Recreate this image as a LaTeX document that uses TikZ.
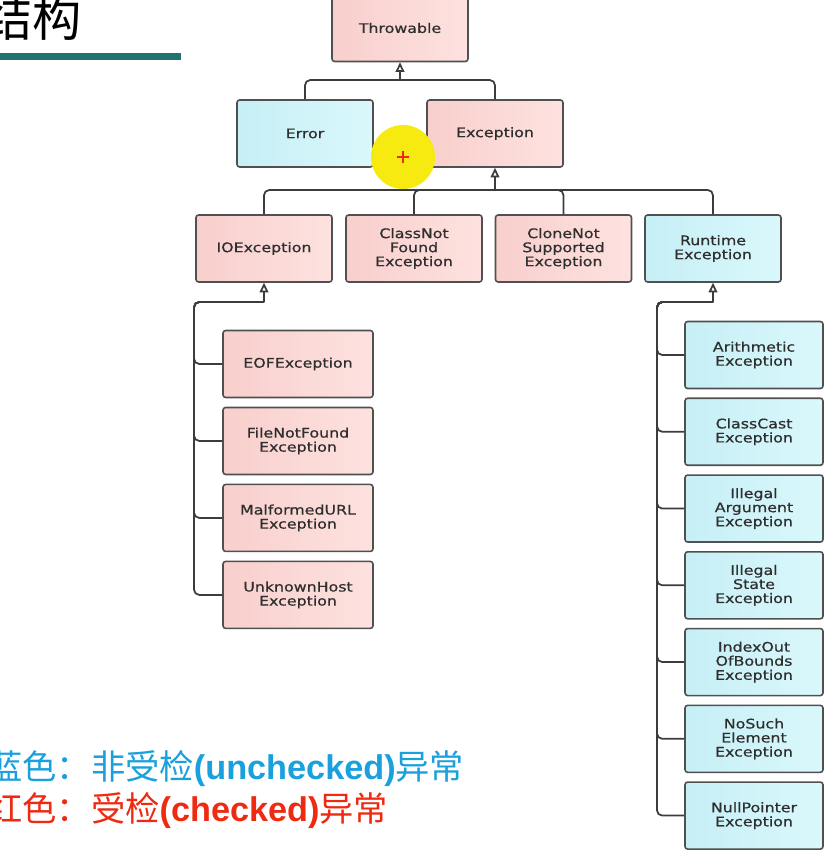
\documentclass[tikz,border=0pt]{standalone}
\usepackage{fontspec}
\setmainfont{DejaVu Sans}
\newfontfamily\boxfont[FakeStretch=1.2, FakeBold=0.6]{DejaVu Sans}
\newfontfamily\cjk{Noto Sans CJK SC}
\newfontfamily\latfont{Liberation Sans}
\usetikzlibrary{arrows.meta, positioning}
\definecolor{chkpink}{HTML}{F8CFCD}
\definecolor{chkpinklt}{HTML}{FDE2DF}
\definecolor{ucblue}{HTML}{C6EFF6}
\definecolor{ucbluelt}{HTML}{DAF8FB}
\definecolor{boxedge}{HTML}{505050}
\definecolor{lnkgray}{HTML}{3C3C3C}
\definecolor{txtgray}{HTML}{2E2E2E}
\definecolor{titleteal}{HTML}{1E7570}
\definecolor{legblue}{HTML}{1AA0DC}
\definecolor{legred}{HTML}{EE2A12}
\definecolor{hlyellow}{HTML}{F7EA10}

\begin{document}
\begin{tikzpicture}[x=0.02cm, y=-0.02cm,
  box/.style={rectangle, rounded corners=1.5pt, draw=boxedge, line width=0.9pt,
    minimum width=2.72cm, minimum height=1.34cm, align=center, text=txtgray,
    font=\boxfont\fontsize{7.5}{8}\selectfont, inner sep=1pt},
  chk/.style={box, left color=chkpink, right color=chkpinklt},
  unchk/.style={box, left color=ucblue, right color=ucbluelt},
  wide/.style={minimum width=3cm},
  narrow/.style={minimum width=2.76cm},
  conn/.style={draw=lnkgray, line width=1pt, rounded corners=3pt},
  inh/.style={draw=lnkgray, line width=1pt,
    -{Triangle[length=5.5pt, width=5pt, fill=white]}},
  leg/.style={anchor=base west, inner sep=0pt, font=\cjk\fontsize{19.5}{22}\selectfont},
]
\useasboundingbox (0,0) rectangle (829,858);

% Title
\node[font=\cjk\fontsize{28}{30}\selectfont, anchor=base east, inner sep=0pt]
  (title) at (82,37) {结构};
\fill[titleteal] (0,53) rectangle (181,60);

% Hierarchy
\node[chk] (throwable) at (400,28) {Throwable};
\node[unchk] (error) at (305,133.5) {Error};
\node[chk] (exception) at (495,133.5) {Exception};

\node[chk] (ioexc) at (264,248.5) {IOException};
\node[chk] (cnfexc) at (414,248.5) {ClassNot\\Found\\Exception};
\node[chk] (cnsexc) at (563.5,248.5) {CloneNot\\Supported\\Exception};
\node[unchk] (rtexc) at (713,248.5) {Runtime\\Exception};

\node[chk, wide] (eofexc) at (298,364) {EOFException};
\node[chk, wide, below=0.168cm of eofexc] (fnfexc) {FileNotFound\\Exception};
\node[chk, wide, below=0.168cm of fnfexc] (murlexc) {MalformedURL\\Exception};
\node[chk, wide, below=0.168cm of murlexc] (uhexc) {UnknownHost\\Exception};

\node[unchk, narrow] (arith) at (754,355) {Arithmetic\\Exception};
\node[unchk, narrow, below=0.164cm of arith] (ccast) {ClassCast\\Exception};
\node[unchk, narrow, below=0.164cm of ccast] (illarg) {Illegal\\Argument\\Exception};
\node[unchk, narrow, below=0.164cm of illarg] (illstate) {Illegal\\State\\Exception};
\node[unchk, narrow, below=0.164cm of illstate] (ioob) {IndexOut\\OfBounds\\Exception};
\node[unchk, narrow, below=0.164cm of ioob] (nosuch) {NoSuch\\Element\\Exception};
\node[unchk, narrow, below=0.164cm of nosuch] (nullptr) {NullPointer\\Exception};

% Connectors
\coordinate (tj) at (400,80);
\draw[conn] (error.north) |- (tj) -| (exception.north);
\draw[inh] (tj) -- (throwable.south);

\coordinate (ej) at (495,190);
\foreach \c in {ioexc, cnfexc, cnsexc, rtexc}
  \draw[conn] (\c.north) |- (ej);
\draw[inh] (ej) -- (exception.south);

\coordinate (ioj) at (264,302);
\coordinate (iotr) at (194,302);
\foreach \c in {eofexc, fnfexc, murlexc, uhexc}
  \draw[conn] (ioj) -- (iotr) |- (\c.west);
\draw[inh] (ioj) -- (ioexc.south);

\coordinate (rtj) at (713,302);
\coordinate (rttr) at (657,302);
\foreach \c in {arith, ccast, illarg, illstate, ioob, nosuch, nullptr}
  \draw[conn] (rtj) -- (rttr) |- (\c.west);
\draw[inh] (rtj) -- (rtexc.south);

% Cursor highlight
\fill[hlyellow] (403,157) circle (32);
\draw[legred, line width=1.3pt] (397,157) -- (409,157) (403,151) -- (403,163);

% Legend
\node[leg, text=legblue] (ucleg) at (-12,779)
  {蓝色：非受检{\latfont\bfseries(unchecked)}异常};
\node[leg, text=legred] (cleg) at (-12,821)
  {红色：受检{\latfont\bfseries(checked)}异常};
\end{tikzpicture}
\end{document}
